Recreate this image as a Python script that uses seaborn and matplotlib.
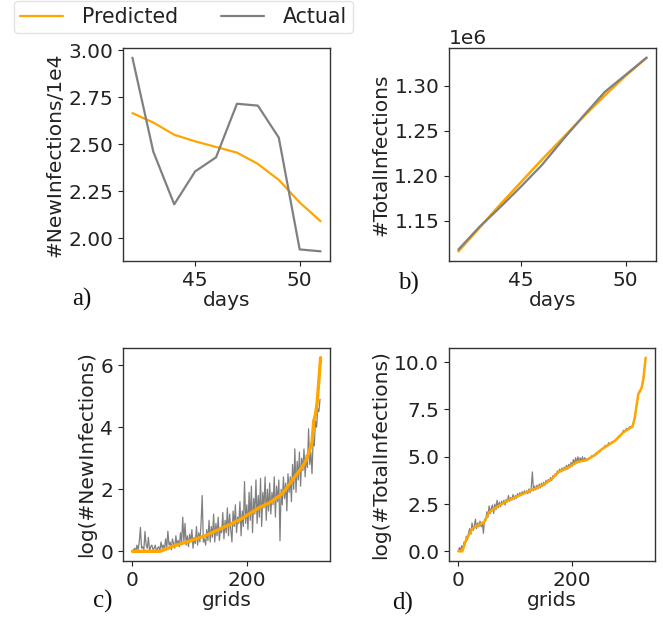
import matplotlib
matplotlib.use("Agg")
import matplotlib.pyplot as plt
import numpy as np
import pandas as pd
import seaborn as sns

# ---------------- data ----------------
days = [42, 43, 44, 45, 46, 47, 48, 49, 50, 51]
new_predicted = [2.665, 2.615, 2.55, 2.515, 2.485, 2.455, 2.395, 2.31, 2.19, 2.09]
new_actual = [2.96, 2.46, 2.18, 2.355, 2.43, 2.715, 2.705, 2.535, 1.94, 1.93]

total_predicted = [1.116e6, 1.142e6, 1.168e6, 1.193e6, 1.218e6, 1.242e6, 1.266e6, 1.289e6, 1.311e6, 1.331e6]
total_actual = [1.118e6, 1.143e6, 1.165e6, 1.188e6, 1.212e6, 1.240e6, 1.267e6, 1.293e6, 1.312e6, 1.331e6]

# panel c: log(#NewInfections) per grid (sorted)
c_pred_grid = [0, 48, 74, 100, 127, 153, 188, 223, 241, 258, 264, 270, 282, 290, 298, 305, 314, 317, 320, 323, 326, 329]
c_pred_val = [0.0, 0.0, 0.18, 0.33, 0.5, 0.72, 1.02, 1.42, 1.58, 1.8, 1.9, 2.05, 2.35, 2.55, 2.75, 2.98, 3.5, 4.2, 4.4, 4.8, 5.5, 6.24]
c_act_grid = list(range(0, 330, 2))
c_act_val = [
    0.0, 0.05, 0.1, 0.0, 0.2, 0.05, 0.3, 0.77, 0.1, 0.15,
    0.05, 0.64, 0.2, 0.1, 0.45, 0.0, 0.15, 0.2, 0.05, 0.1,
    0.2, 0.0, 0.1, 0.15, 0.0, 0.3, 0.1, 0.2, 0.05, 0.4,
    0.1, 0.65, 0.2, 0.3, 0.05, 0.4, 0.25, 0.1, 0.5, 0.2,
    0.35, 0.15, 0.6, 0.25, 1.1, 0.3, 0.9, 0.2, 0.5, 0.15,
    0.55, 0.3, 0.7, 0.1, 0.45, 0.25, 0.8, 0.2, 0.6, 0.3,
    0.9, 1.8, 0.3, 0.4, 0.2, 0.7, 0.35, 1.0, 0.3, 0.8,
    0.45, 1.2, 0.3, 0.9, 0.5, 1.1, 0.35, 0.75, 0.6, 1.25,
    0.4, 1.0, 0.6, 1.4, 0.5, 1.2, 0.7, 0.3, 1.3, 0.8,
    1.5, 0.6, 1.1, 0.9, 1.6, 0.5, 1.3, 0.8, 2.25, 0.9,
    1.5, 0.7, 1.9, 1.0, 2.1, 0.6, 1.7, 1.2, 2.3, 0.9,
    1.8, 1.1, 2.35, 0.8, 1.9, 1.4, 2.4, 1.0, 2.0, 1.3,
    2.2, 1.2, 1.9, 1.5, 2.4, 1.1, 2.1, 1.6, 2.3, 0.34,
    2.0, 1.5, 2.4, 1.7, 2.2, 1.3, 2.5, 1.9, 2.4, 1.6,
    2.8, 2.0, 3.3, 1.9, 2.9, 2.3, 3.2, 2.1, 3.0, 2.6,
    3.3, 2.4, 3.1, 2.7, 3.95, 2.8, 3.2, 2.5, 3.6, 3.4,
    4.2, 4.0, 4.6, 4.5, 4.9,
]

# panel d: log(#TotalInfections) per grid (sorted)
d_pred_grid = [0, 7, 13, 24, 33, 45, 54, 68, 86, 106, 124, 147, 164, 176, 194, 208, 225, 240, 252, 265, 275, 290, 306, 310, 316, 322, 325, 329]
d_pred_val = [0.0, 0.0, 0.56, 1.18, 1.35, 1.53, 2.06, 2.36, 2.67, 2.94, 3.18, 3.47, 3.82, 4.2, 4.44, 4.72, 4.82, 5.1, 5.4, 5.65, 5.84, 6.3, 6.6, 7.07, 8.3, 8.65, 9.1, 10.24]
d_act_grid = list(range(0, 330, 2))
d_act_val = [
    0.0, 0.2, 0.05, 0.3, 0.1, 0.5, 0.35, 0.8, 0.6, 1.0,
    1.2, 0.9, 1.5, 1.1, 1.35, 1.7, 1.2, 1.5, 1.3, 1.6,
    1.3, 1.55, 0.95, 1.7, 1.6, 2.1, 1.8, 2.4, 2.0, 2.3,
    2.45, 2.0, 2.5, 2.2, 2.7, 2.3, 2.6, 2.35, 2.65, 2.5,
    2.7, 2.45, 2.75, 2.6, 2.95, 2.65, 2.85, 2.7, 3.0, 2.75,
    2.95, 2.8, 3.05, 2.9, 3.1, 2.95, 3.15, 3.0, 3.2, 3.05,
    3.2, 3.05, 3.3, 3.1, 3.35, 4.2, 3.2, 3.45, 3.25, 3.5,
    3.3, 3.55, 3.35, 3.6, 3.45, 3.65, 3.5, 3.75, 3.6, 3.8,
    3.7, 3.9, 3.75, 4.0, 3.9, 4.1, 4.0, 4.25, 4.15, 4.35,
    4.2, 4.4, 4.25, 4.45, 4.3, 4.55, 4.35, 4.6, 4.45, 4.7,
    4.5, 4.85, 4.6, 4.95, 4.65, 5.0, 4.7, 4.95, 4.75, 5.0,
    4.75, 4.95, 4.8, 4.9, 4.85, 4.95, 4.95, 5.05, 5.0, 5.1,
    5.05, 5.2, 5.15, 5.3, 5.25, 5.35, 5.4, 5.45, 5.5, 5.6,
    5.6, 5.55, 5.75, 5.65, 5.7, 5.8, 5.75, 5.85, 5.9, 5.95,
    6.0, 6.1, 6.05, 6.2, 6.25, 6.4, 6.3, 6.45, 6.5, 6.45,
    6.55, 6.6, 6.55, 6.65, 6.8, 7.1, 7.5, 7.9, 8.3, 8.45,
    8.55, 8.65, 8.9, 9.4, 9.9,
]

ORANGE = "#FFA500"
GRAY = "#808080"

# ---------------- style ----------------
sns.set_theme(style="white", rc={
    "axes.edgecolor": "#333333",
    "axes.linewidth": 1.0,
    "xtick.bottom": True,
    "ytick.left": True,
    "xtick.color": "#222222",
    "ytick.color": "#222222",
    "xtick.major.size": 3.5,
    "ytick.major.size": 3.5,
    "xtick.major.width": 0.8,
    "ytick.major.width": 0.8,
    "xtick.labelsize": 14.5,
    "ytick.labelsize": 14.5,
    "axes.labelsize": 14.5,
    "axes.labelcolor": "#222222",
    "text.color": "#222222",
    "legend.fontsize": 14.8,
})
plt.rcParams["font.family"] = ["DejaVu Sans"]

W, H = 663, 622
fig = plt.figure(figsize=(W / 100, H / 100), dpi=100)

def box(l, t, r, b):
    return [l / W, 1 - b / H, (r - l) / W, (b - t) / H]

ax_a = fig.add_axes(box(123, 48, 330, 261))
ax_b = fig.add_axes(box(449, 48, 656, 261))
ax_c = fig.add_axes(box(123, 348, 330, 561))
ax_d = fig.add_axes(box(449, 348, 655, 561))

# panel a
sns.lineplot(x=days, y=new_predicted, ax=ax_a, color=ORANGE, lw=1.6, label="Predicted")
sns.lineplot(x=days, y=new_actual, ax=ax_a, color=GRAY, lw=1.6, label="Actual")
ax_a.set_xlabel("days")
ax_a.set_ylabel("#NewInfections/1e4")
ax_a.set_xticks([45, 50])
ax_a.set_yticks([2.0, 2.25, 2.5, 2.75, 3.0])
ax_a.yaxis.set_major_formatter(matplotlib.ticker.FormatStrFormatter("%.2f"))

# panel b
sns.lineplot(x=days, y=total_predicted, ax=ax_b, color=ORANGE, lw=1.8)
sns.lineplot(x=days, y=total_actual, ax=ax_b, color=GRAY, lw=1.6)
ax_b.set_xlabel("days")
ax_b.set_ylabel("#TotalInfections")
ax_b.set_xticks([45, 50])
ax_b.set_yticks([1.15e6, 1.20e6, 1.25e6, 1.30e6])
ax_b.ticklabel_format(axis="y", style="sci", scilimits=(0, 0), useOffset=False)
ax_b.yaxis.get_offset_text().set_fontsize(14.5)

# panel c
sns.lineplot(x=c_act_grid, y=c_act_val, ax=ax_c, color=GRAY, lw=0.9)
sns.lineplot(x=c_pred_grid, y=c_pred_val, ax=ax_c, color=ORANGE, lw=2.4)
ax_c.set_xlabel("grids")
ax_c.set_ylabel("log(#NewInfections)")
ax_c.set_xticks([0, 200])
ax_c.set_yticks([0, 2, 4, 6])
ax_c.set_xlim(-16.45, 345.45)

# panel d
sns.lineplot(x=d_act_grid, y=d_act_val, ax=ax_d, color=GRAY, lw=0.9)
sns.lineplot(x=d_pred_grid, y=d_pred_val, ax=ax_d, color=ORANGE, lw=1.8)
ax_d.set_xlabel("grids")
ax_d.set_ylabel("log(#TotalInfections)")
ax_d.set_xticks([0, 200])
ax_d.set_yticks([0, 2.5, 5.0, 7.5, 10.0])
ax_d.yaxis.set_major_formatter(matplotlib.ticker.FormatStrFormatter("%.1f"))
ax_d.set_xlim(-16.45, 345.45)

for ax in (ax_a, ax_b, ax_c, ax_d):
    ax.xaxis.labelpad = 1
    ax.yaxis.labelpad = 3
    for s in ax.spines.values():
        s.set_visible(True)

handles, labels = ax_a.get_legend_handles_labels()
ax_a.get_legend().remove()
fig.legend(handles, labels, loc="upper left", bbox_to_anchor=(14 / W, 1 - 1 / H),
           borderaxespad=0, ncol=2, frameon=True, handlelength=2.1,
           handletextpad=0.9, columnspacing=2.1,
           borderpad=0.3, edgecolor="#dddddd", fancybox=True)

serif = ["Liberation Serif", "DejaVu Serif"]
fig.text(82 / W, 1 - 299 / H, "a)", ha="center", va="center", fontsize=18, family=serif, color="#111111")
fig.text(408 / W, 1 - 283 / H, "b)", ha="center", va="center", fontsize=18, family=serif, color="#111111")
fig.text(103 / W, 1 - 601 / H, "c)", ha="center", va="center", fontsize=18, family=serif, color="#111111")
fig.text(403 / W, 1 - 603 / H, "d)", ha="center", va="center", fontsize=18, family=serif, color="#111111")

fig.savefig("out.png", dpi=100)
